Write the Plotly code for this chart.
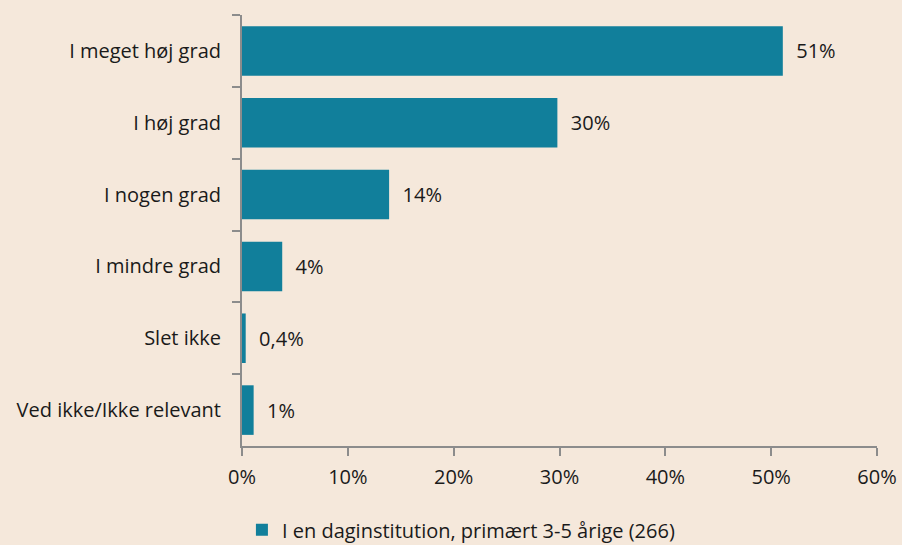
import plotly.graph_objects as go

categories = ["I meget høj grad", "I høj grad", "I nogen grad", "I mindre grad", "Slet ikke", "Ved ikke/Ikke relevant"]
values = [51.1, 29.8, 13.9, 3.8, 0.35, 1.1]
labels = ["51%", "30%", "14%", "4%", "0,4%", "1%"]
series_name = "I en daginstitution, primært 3-5 årige (266)"
x_ticks = [0, 10, 20, 30, 40, 50, 60]
x_ticktext = ["0%", "10%", "20%", "30%", "40%", "50%", "60%"]

BG = "#F5E8DB"
BAR = "#117F9B"
AX = "#8C8C8C"
FONT = "Open Sans"
FS = 20

fig = go.Figure()
fig.add_trace(go.Bar(
    y=categories, x=values, orientation="h",
    marker=dict(color=BAR, line=dict(width=0)),
    text=["  " + t for t in labels], textposition="outside",
    textfont=dict(size=FS, color="#1a1a1a", family=FONT),
    cliponaxis=False,
    name=series_name, showlegend=True,
))
fig.update_layout(
    width=902, height=545,
    paper_bgcolor=BG, plot_bgcolor=BG,
    margin=dict(l=242, r=25, t=15, b=99, autoexpand=False),
    bargap=0.31,
    font=dict(family=FONT, size=FS, color="#1a1a1a"),
    xaxis=dict(range=[0, 60], tickvals=x_ticks, ticktext=x_ticktext, automargin=False,
               showgrid=False, zeroline=False, showline=True, linecolor=AX, linewidth=2,
               ticks="outside", ticklen=8, tickcolor=AX, tickwidth=2, ticklabelstandoff=4),
    yaxis=dict(autorange="reversed", showgrid=False, zeroline=False, showline=True, automargin=False,
               linecolor=AX, linewidth=2, ticks="outside", ticklen=8, tickcolor=AX, tickwidth=2,
               tickson="boundaries", ticklabelstandoff=15),
    legend=dict(orientation="h", xref="container", yref="container", x=0.511, xanchor="center",
                y=0.028, yanchor="middle", font=dict(size=FS), bgcolor="rgba(0,0,0,0)",
                itemwidth=30),
)
fig.write_html("out.html", config={"displayModeBar": False},
               post_script="document.body.style.margin='0';")
